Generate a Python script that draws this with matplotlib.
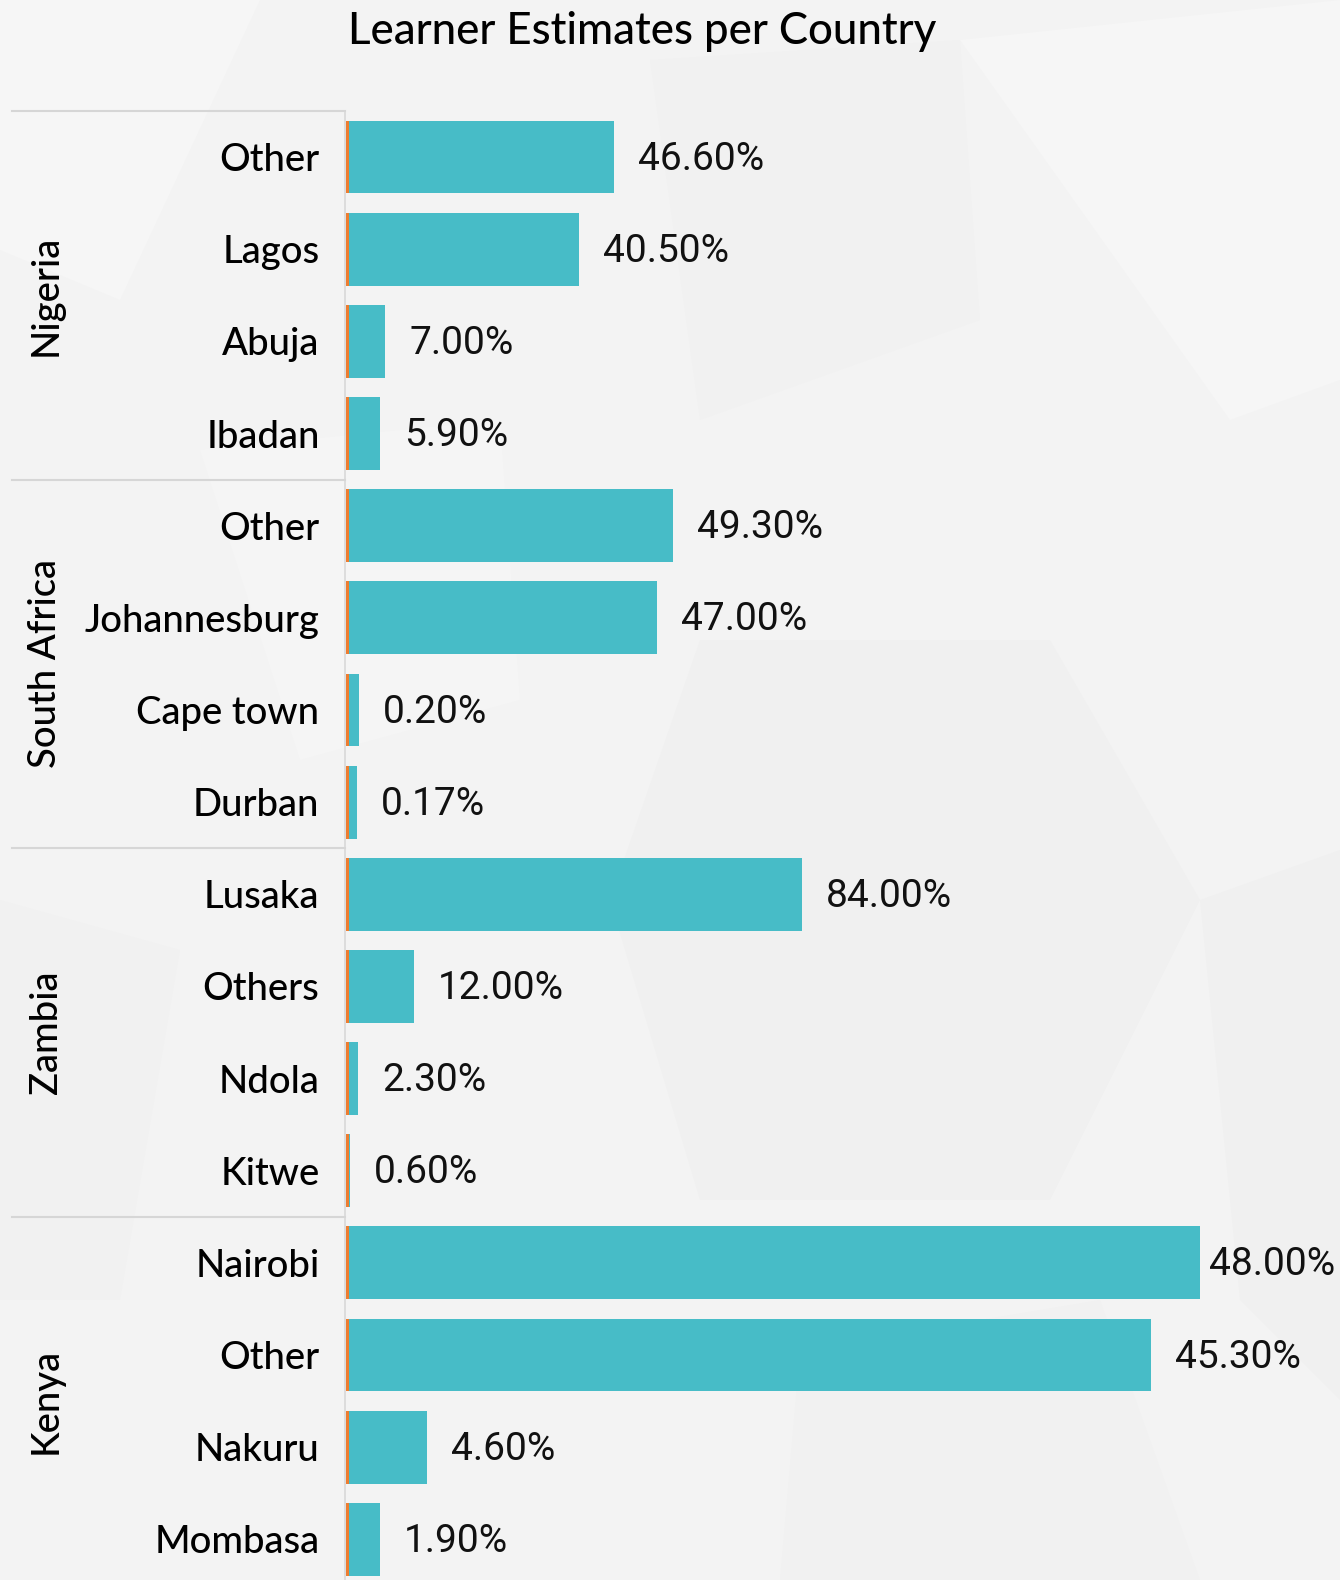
import matplotlib
matplotlib.use("Agg")
import matplotlib.pyplot as plt
from matplotlib.patches import Polygon
import matplotlib.transforms as mtransforms

# ---- data ----
countries = ["Nigeria", "South Africa", "Zambia", "Kenya"]
cities = [
    ["Other", "Lagos", "Abuja", "Ibadan"],
    ["Other", "Johannesburg", "Cape town", "Durban"],
    ["Lusaka", "Others", "Ndola", "Kitwe"],
    ["Nairobi", "Other", "Nakuru", "Mombasa"],
]
# estimated learner counts (bar lengths, arbitrary units)
learners = [
    [265, 230, 36, 31],
    [324, 308, 10, 8],
    [453, 65, 9, 0.5],
    [851, 802, 78, 31],
]
# small second series (orange sliver at the base of each bar)
base_series = [
    [3, 3, 3, 3],
    [3, 3, 3, 3],
    [3, 3, 3, 3],
    [3, 3, 3, 3],
]
share_labels = [
    ["46.60%", "40.50%", "7.00%", "5.90%"],
    ["49.30%", "47.00%", "0.20%", "0.17%"],
    ["84.00%", "12.00%", "2.30%", "0.60%"],
    ["48.00%", "45.30%", "4.60%", "1.90%"],
]
title = "Learner Estimates per Country"

TEAL = "#47BCC7"
ORANGE = "#ED7D31"
BG = "#F3F3F3"
LINE = "#D6D6D6"
TICK_FONT = "Lato"
VAL_FONT = "Roboto"

W, H = 1340, 1580
fig = plt.figure(figsize=(W / 100, H / 100), dpi=100)
fig.patch.set_facecolor(BG)

# faint background facets
bgax = fig.add_axes([0, 0, 1, 1], zorder=-10)
bgax.set_xlim(0, W)
bgax.set_ylim(H, 0)
bgax.axis("off")
facets = [
    ([(0, 0), (260, 0), (120, 300), (0, 250)], "#F6F6F6"),
    ([(650, 60), (960, 40), (980, 320), (700, 420)], "#F1F1F1"),
    ([(960, 40), (1340, 0), (1340, 380), (1230, 420)], "#F6F6F6"),
    ([(700, 640), (1050, 640), (1200, 900), (1050, 1200), (700, 1200), (610, 900)], "#F0F0F0"),
    ([(0, 900), (180, 950), (120, 1300), (0, 1300)], "#F1F1F1"),
    ([(1200, 900), (1340, 850), (1340, 1400), (1240, 1300)], "#F0F0F0"),
    ([(200, 450), (500, 420), (520, 700), (300, 760)], "#F5F5F5"),
    ([(800, 1350), (1100, 1300), (1200, 1580), (780, 1580)], "#F1F1F1"),
]
for pts, c in facets:
    bgax.add_patch(Polygon(pts, closed=True, facecolor=c, edgecolor="none"))

n_rows = sum(len(c) for c in cities)
px0 = 344.5
ax_left = px0 / W
ax_top = 1 - 111 / H
row_h = 92.15
ax_h = n_rows * row_h / H
ax = fig.add_axes([ax_left, ax_top - ax_h, 1 - ax_left, ax_h])
ax.set_facecolor("none")

ylabels = []
annots = []
ypos = 0
for gi in range(len(countries)):
    for ci in range(len(cities[gi])):
        ax.barh(ypos, base_series[gi][ci], height=0.79, color=ORANGE, edgecolor="none",
                zorder=3)
        ax.barh(ypos, learners[gi][ci], left=base_series[gi][ci], height=0.79,
                color=TEAL, edgecolor="none", zorder=2)
        end = base_series[gi][ci] + learners[gi][ci]
        a = ax.annotate(share_labels[gi][ci], (end, ypos), xytext=(17.5, -1.5),
                        textcoords="offset points", va="center", ha="left",
                        fontsize=28, family=VAL_FONT, fontweight="normal",
                        color="#111111")
        annots.append(a)
        ylabels.append(cities[gi][ci])
        ypos += 1

ax.set_ylim(n_rows - 0.5, -0.5)
ax.set_xlim(-(346 - px0), W - px0 - (346 - px0))
ax.set_yticks(range(n_rows))
ax.set_yticklabels(ylabels, family=TICK_FONT, fontsize=27.5, color="black",
                   fontweight="medium")
ax.tick_params(axis="y", length=0, pad=18)
ax.set_xticks([])
for s in ["top", "right", "bottom"]:
    ax.spines[s].set_visible(False)
ax.spines["left"].set_color(LINE)
ax.spines["left"].set_linewidth(1.1)

# group separators and labels
trans = mtransforms.blended_transform_factory(ax.transAxes, ax.transData)
x_line0 = (12 - px0) / (W - px0)
start = 0
for gi, country in enumerate(countries):
    n = len(cities[gi])
    ax.plot([x_line0, 0], [start - 0.5, start - 0.5], transform=trans,
            color=LINE, lw=1.5, clip_on=False)
    ax.text((46 - px0) / (W - px0), start + (n - 1) / 2, country, transform=trans,
            rotation=90, ha="center", va="center", family=TICK_FONT,
            fontsize=27.5, fontweight="medium", color="black")
    start += n

fig.text(642 / W, 1 - 31 / H, title, ha="center", va="center",
         family=TICK_FONT, fontsize=31.5, fontweight="medium", color="black")

# keep value labels inside the figure (shift left if they overflow)
fig.canvas.draw()
renderer = fig.canvas.get_renderer()
limit = W - 5
for a in annots:
    bb = a.get_window_extent(renderer)
    if bb.x1 > limit:
        shift = (bb.x1 - limit) * 72 / fig.dpi
        x, y = a.xyann
        a.xyann = (x - shift, y)

fig.savefig("out.png", dpi=100, facecolor=BG)
